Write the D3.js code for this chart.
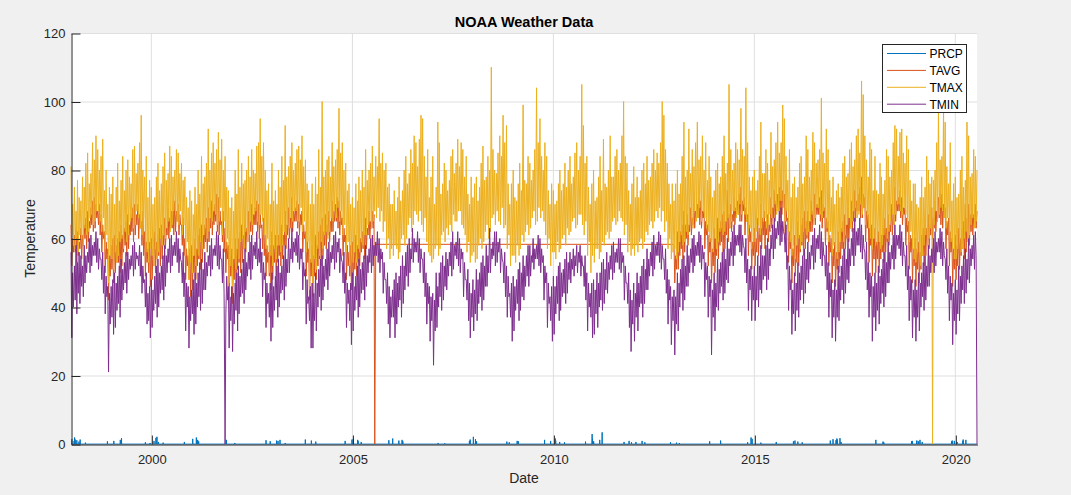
<!DOCTYPE html>
<html><head><meta charset="utf-8">
<script src="https://cdn.jsdelivr.net/npm/d3@7"></script>
<style>
body{margin:0;background:#f0f0f0;}
svg{display:block;font-family:"Liberation Sans",Arial,Helvetica,sans-serif;}
</style></head><body><svg id="c" width="1071" height="495"></svg>
<script>
// ---------------- DATA ----------------
const seriesNames = ["PRCP", "TAVG", "TMAX", "TMIN"];
const seriesColors = ["#0072BD", "#D95319", "#EDB120", "#7E2F8E"];
const yTicks = [0, 20, 40, 60, 80, 100, 120];
const xTickYears = [2000, 2005, 2010, 2015, 2020];
const startDate = "1998-01-01";   // samples on the 1st, 8th, 16th and 23rd of each month
const endDate = "2020-07-16";

// TMAX readings (4 per month), one row per year
const tmax = [
 81,61,70,58, 75,57,68,60, 77,56,72,61, 71,60,78,58, 75,63,82,61, 85,62,76,66, 79,67,88,64, 83,65,90,68, 86,68,80,65, 84,62,89,66, 74,57,80,61, 70,47,75,55,
 73,54,78,51, 70,56,75,53, 82,55,71,59, 77,60,84,57, 74,62,80,59, 83,61,78,65, 76,66,86,63, 87,64,79,68, 82,66,88,63, 96,61,80,66, 78,59,84,56, 72,53,77,57,
 75,55,70,52, 72,57,78,54, 82,56,74,60, 76,58,81,61, 85,60,77,63, 79,65,87,62, 84,64,78,68, 80,67,86,65, 85,64,79,68, 82,61,77,64, 78,55,72,59, 69,48,74,53,
 71,50,67,55, 75,52,70,57, 80,55,73,59, 84,57,76,61, 78,63,82,60, 92,62,80,66, 85,65,88,68, 82,67,86,64, 91,65,83,69, 89,61,80,65, 84,57,75,60, 74,47,69,52,
 72,46,68,54, 80,51,73,57, 86,54,75,59, 82,60,76,57, 77,62,80,59, 84,61,78,65, 86,64,80,67, 79,68,87,65, 88,64,95,67, 84,65,88,61, 80,57,74,60, 76,50,70,55,
 82,52,71,57, 74,54,70,58, 80,58,75,56, 84,58,77,62, 93,61,78,64, 81,63,84,66, 88,65,80,68, 82,68,86,65, 87,65,83,69, 90,62,81,65, 83,56,76,59, 74,45,70,53,
 76,45,70,54, 78,51,73,57, 86,55,75,59, 100,57,78,61, 80,62,83,60, 84,62,78,66, 88,65,81,68, 83,66,86,69, 98,65,85,68, 88,61,80,64, 82,56,74,59, 76,52,70,56,
 72,53,69,56, 76,53,71,57, 78,56,74,59, 80,58,75,61, 86,61,77,64, 80,65,82,63, 87,65,78,68, 84,66,81,69, 95,65,82,68, 85,62,80,65, 82,57,75,60, 76,54,70,57,
 70,55,74,58, 68,57,72,54, 78,56,71,60, 74,61,80,58, 84,60,76,64, 79,66,86,62, 82,64,90,68, 88,67,81,65, 89,68,96,64, 95,62,84,66, 78,59,86,56, 72,55,78,53,
 84,54,70,57, 75,58,94,55, 88,57,73,61, 76,62,82,59, 80,63,74,61, 77,64,84,62, 86,67,79,65, 82,65,89,68, 81,68,88,64, 86,63,78,61, 84,56,73,59, 70,53,78,55,
 72,56,76,53, 78,54,71,58, 75,60,82,57, 87,59,77,62, 78,64,84,60, 80,62,110,66, 86,67,80,64, 79,68,85,65, 90,64,84,69, 96,63,88,64, 93,57,76,61, 70,52,76,55,
 80,55,72,53, 71,58,76,55, 82,57,74,61, 99,59,77,62, 76,64,84,61, 82,63,77,66, 80,68,86,64, 104,65,88,69, 95,66,84,68, 80,65,88,61, 84,57,74,60, 70,52,76,56,
 74,56,70,54, 71,59,76,56, 80,57,74,60, 76,61,82,58, 75,63,80,61, 84,62,76,65, 78,66,85,63, 88,64,80,67, 84,67,105,64, 93,61,82,65, 84,55,75,59, 70,50,76,55,
 80,53,71,57, 72,57,78,54, 84,56,74,59, 89,58,76,61, 75,62,80,60, 90,62,78,65, 78,66,84,64, 86,65,80,68, 82,66,90,65, 100,61,84,64, 82,56,74,59, 70,55,76,57,
 81,55,72,58, 78,56,72,59, 74,60,80,57, 82,59,76,62, 84,61,77,64, 78,65,82,63, 86,65,80,68, 85,66,82,69, 88,65,100,68, 96,62,86,65, 82,57,76,60, 70,54,76,56,
 71,57,76,54, 80,56,73,59, 76,61,84,58, 94,59,78,62, 80,61,92,64, 79,66,86,63, 81,68,88,65, 94,66,83,69, 84,65,90,68, 80,66,88,63, 77,62,84,59, 78,59,72,56,
 74,60,80,57, 82,59,76,62, 78,63,84,61, 90,62,79,65, 82,66,105,63, 86,65,80,68, 82,68,88,66, 86,67,83,70, 98,67,86,70, 84,67,104,65, 88,61,78,63, 74,57,78,60,
 80,59,74,62, 77,64,84,61, 94,63,79,65, 79,66,86,63, 82,64,77,67, 91,66,81,69, 83,70,88,67, 94,68,85,71, 88,71,99,69, 95,65,84,68, 77,62,86,59, 72,55,76,58,
 78,54,72,58, 75,60,82,57, 84,59,76,62, 78,63,90,61, 86,62,78,65, 80,67,91,64, 88,66,82,69, 83,69,86,67, 101,66,85,68, 82,66,92,63, 86,59,77,62, 72,55,78,58,
 70,57,74,54, 76,56,72,59, 75,62,82,59, 84,61,78,64, 79,66,86,63, 88,65,81,68, 83,69,90,66, 92,67,85,70, 106,67,102,69, 90,64,83,67, 78,63,88,60, 86,57,74,60,
 84,58,74,59, 73,59,82,57, 78,58,73,61, 77,63,86,60, 84,62,78,65, 80,67,88,64, 93,67,92,70, 84,70,91,68, 92,67,85,69, 82,67,90,64, 86,59,77,62, 71,57,76,54,
 76,53,70,56, 69,56,72,52, 78,55,72,58, 75,61,84,58, 80,60,76,63, 78,0,77,64, 80,68,88,65, 97,67,83,69, 84,68,98,66, 94,63,81,66, 76,62,88,59, 71,57,76,54,
 78,54,72,57, 73,59,80,56, 84,57,75,60, 77,62,94,59, 90,61,78,64, 79,66,86,63, 84,65,80
];

// TMIN readings (4 per month)
const tmin = [
 56,31,50,40, 52,42,58,38, 53,44,56,41, 55,46,52,43, 58,47,55,50, 56,53,60,50, 61,52,58,55, 59,55,62,53, 60,51,57,54, 54,48,56,44, 52,38,49,43, 46,21,44,35,
 46,37,48,32, 50,34,47,39, 49,41,52,37, 54,42,51,45, 53,47,56,44, 56,48,54,51, 55,52,58,49, 59,51,56,54, 55,52,58,49, 56,44,52,47, 48,40,50,35, 44,36,46,31,
 48,34,45,39, 49,41,52,37, 54,40,50,44, 52,45,55,42, 58,46,55,50, 57,53,60,50, 61,52,58,55, 59,55,62,53, 60,50,57,54, 53,47,56,43, 50,33,47,40, 46,28,43,36,
 45,38,48,32, 50,35,47,40, 50,43,53,39, 54,41,51,45, 56,45,53,49, 55,52,58,49, 60,51,57,55, 58,55,62,52, 61,51,58,54, 54,47,57,44, 0,38,49,42, 46,28,43,36,
 46,27,44,35, 47,39,50,33, 52,38,49,43, 51,44,54,41, 57,45,53,49, 56,51,59,48, 61,51,58,55, 59,54,62,52, 57,53,60,50, 56,43,53,48, 50,34,47,41, 44,37,47,30,
 50,34,46,39, 49,42,52,37, 54,40,50,44, 52,45,55,42, 58,46,54,50, 60,50,57,54, 63,53,59,56, 60,55,62,53, 61,51,57,54, 57,45,53,49, 51,35,48,41, 43,36,46,28,
 47,28,44,36, 50,33,47,40, 51,43,54,39, 55,42,52,46, 54,48,57,45, 59,49,56,53, 58,54,61,51, 62,53,59,56, 60,50,57,54, 53,47,56,44, 50,34,47,41, 45,36,47,29,
 50,33,46,39, 49,42,52,37, 54,40,51,44, 53,45,55,42, 58,46,55,50, 57,53,60,50, 61,52,58,55, 59,55,62,53, 60,50,57,54, 56,44,53,48, 48,41,50,35, 46,31,43,37,
 45,37,48,31, 50,35,47,40, 49,42,52,37, 55,41,52,45, 56,49,58,46, 60,50,57,54, 63,53,60,56, 59,56,62,53, 60,50,57,54, 54,47,56,43, 50,35,47,41, 46,30,43,36,
 44,23,42,33, 50,34,46,40, 50,43,53,39, 55,42,52,46, 56,45,54,49, 56,52,59,49, 62,51,58,55, 59,54,62,52, 60,50,57,54, 56,43,53,48, 48,42,51,36, 47,31,44,37,
 48,33,45,38, 51,36,48,41, 50,43,53,39, 55,42,52,46, 58,46,55,50, 63,50,57,54, 59,55,62,52, 62,53,59,56, 60,50,57,54, 53,47,56,43, 52,37,49,43, 44,37,47,30,
 49,33,46,39, 48,41,51,36, 53,39,50,43, 55,42,52,46, 55,49,58,46, 58,49,55,53, 60,51,57,54, 58,54,61,52, 60,50,57,53, 55,42,52,47, 50,34,47,41, 43,36,46,30,
 49,32,46,38, 49,41,52,36, 53,39,50,43, 51,44,54,41, 56,44,53,48, 56,47,54,51, 57,49,55,52, 58,50,56,53, 58,49,55,52, 52,46,55,42, 50,33,47,40, 44,37,47,31,
 48,32,45,38, 50,34,47,40, 50,42,53,39, 54,41,51,45, 56,44,53,48, 55,51,58,48, 59,50,56,53, 57,53,60,51, 60,50,56,53, 55,42,52,47, 47,41,50,34, 45,27,42,35,
 47,30,44,37, 50,33,47,40, 49,41,52,37, 54,41,51,45, 57,45,54,49, 56,52,59,49, 61,51,58,55, 59,55,62,53, 61,51,58,54, 54,48,57,44, 51,35,48,42, 46,29,43,36,
 45,26,43,35, 50,33,47,40, 51,44,54,39, 55,42,52,46, 58,46,55,50, 57,53,60,50, 61,52,58,55, 59,55,62,53, 61,51,58,54, 56,43,53,48, 52,37,49,43, 48,26,45,37,
 50,33,47,40, 54,39,51,44, 53,46,56,42, 57,44,54,48, 60,47,57,52, 59,55,62,52, 64,55,61,58, 61,58,64,56, 64,55,61,58, 57,50,60,47, 54,39,51,45, 52,36,49,42,
 52,36,49,42, 55,40,52,45, 58,44,55,48, 55,49,58,45, 60,48,57,52, 61,57,64,54, 66,57,63,60, 65,61,68,58, 69,59,65,62, 61,56,64,51, 55,39,52,45, 48,32,45,38,
 50,33,47,39, 53,37,50,42, 52,45,55,41, 57,44,54,48, 59,47,56,51, 58,55,61,51, 63,53,60,57, 61,57,64,54, 62,52,59,55, 55,49,58,45, 53,37,50,43, 48,31,45,37,
 48,30,45,37, 52,36,49,42, 52,45,55,41, 57,44,54,48, 60,47,57,52, 60,55,63,52, 66,55,62,58, 63,58,66,56, 64,54,61,57, 56,48,59,45, 53,37,50,43, 49,30,46,37,
 50,33,47,39, 52,35,49,41, 51,44,54,40, 56,43,53,47, 59,47,56,51, 58,54,61,51, 64,54,61,58, 61,57,64,55, 62,52,59,55, 55,49,58,45, 52,36,49,42, 48,31,45,37,
 48,30,45,37, 50,33,47,40, 50,43,53,39, 55,42,52,46, 58,46,55,50, 57,53,60,50, 62,52,59,56, 60,56,63,54, 62,52,59,55, 54,48,57,44, 52,36,49,42, 47,29,44,36,
 48,32,45,38, 52,36,49,41, 52,45,55,41, 57,44,54,48, 60,47,57,52, 58,54,61,51, 62,55,0
];

// TAVG readings (4 per month): first run from 1998-01-01, second run after the gap
const tavgEarly = [
 64,52,60,56, 61,56,63,53, 62,55,59,57, 63,54,61,58, 64,60,66,57, 68,59,65,63, 69,64,71,62, 72,63,70,66, 68,64,70,61, 67,56,64,60, 62,50,59,54, 57,42,55,49,
 58,51,60,47, 61,50,58,53, 60,53,62,50, 64,52,61,56, 63,58,65,55, 67,57,64,61, 67,62,69,59, 70,61,67,64, 70,60,67,63, 65,58,68,55, 62,49,59,53, 57,50,59,46,
 60,48,57,52, 62,50,59,54, 61,55,63,52, 64,54,61,58, 66,57,63,61, 69,60,66,63, 68,63,70,61, 71,62,68,65, 70,61,67,64, 64,58,66,55, 60,48,57,52, 55,48,57,43,
 58,45,55,50, 60,48,57,52, 61,54,63,51, 64,53,61,57, 64,59,66,56, 69,59,66,63, 71,61,68,64, 70,65,73,62, 72,61,68,64, 65,59,68,56, 63,50,59,54, 58,43,55,49,
 57,41,54,48, 60,47,57,51, 60,53,62,50, 64,53,61,57, 66,56,63,60, 68,59,65,62, 70,61,67,64, 69,64,71,62, 70,60,67,63, 64,57,66,55, 61,49,58,53, 56,49,58,45,
 62,48,58,53, 61,49,58,53, 61,55,63,52, 64,54,61,58, 68,57,64,61, 69,60,66,63, 72,62,68,65, 69,65,71,63, 70,61,67,64, 68,56,64,60, 62,49,59,53, 57,42,54,49,
 58,43,55,49, 61,48,58,52, 62,54,64,52, 66,54,62,58, 67,57,64,61, 68,59,65,62, 71,62,68,65, 70,65,72,63, 71,61,68,64, 66,55,63,59, 61,48,58,52, 56,49,58,45,
 59,46,56,51, 61,49,58,53, 63,52,60,56, 62,57,64,54, 66,57,63,61, 68,60,65,63, 68,63,67,0, 58.3
];
const tavgLateStart = "2012-12-23";
const tavgLate = [
 58.3,
 58,47,55,51, 62,51,59,55, 62,57,64,54, 68,56,64,60, 67,58,64,62, 69,61,66,64, 71,63,68,66, 70,66,72,64, 71,63,68,66, 68,57,65,61, 64,52,61,56, 60,47,57,52,
 63,50,60,55, 66,54,63,58, 65,59,67,56, 68,57,65,61, 74,59,67,63, 70,62,67,65, 72,64,69,67, 71,67,73,65, 75,65,71,68, 72,61,69,65, 67,55,64,59, 62,51,59,55,
 63,52,60,56, 66,55,63,59, 70,57,66,61, 68,57,65,61, 67,59,64,62, 72,63,69,66, 74,65,71,68, 73,68,75,66, 78,67,74,70, 73,61,69,65, 66,53,62,57, 60,47,57,52,
 61,49,58,53, 65,52,61,56, 64,58,66,55, 68,57,65,60, 68,59,65,62, 71,62,68,65, 73,64,70,67, 70,67,72,65, 74,63,70,66, 69,58,66,62, 65,52,61,56, 60,47,57,52,
 59,46,56,51, 62,50,59,54, 63,57,65,55, 67,57,64,60, 69,59,66,63, 71,62,68,65, 74,65,71,68, 73,68,75,66, 78,66,73,69, 72,59,68,63, 67,53,63,58, 64,49,60,54,
 63,50,59,54, 62,50,59,54, 61,56,63,53, 66,56,63,59, 67,58,64,62, 70,61,67,64, 75,65,71,68, 72,68,74,66, 72,64,69,67, 69,58,66,62, 65,51,61,56, 60,47,57,52,
 60,46,57,51, 59,47,56,51, 61,55,63,52, 66,55,63,59, 67,57,64,61, 69,60,66,63, 71,62,68,65, 72,66,74,64, 73,63,70,66, 69,57,65,61, 66,52,62,56, 60,46,57,51,
 61,48,58,52, 63,51,60,55, 63,57,65,54, 70,56,66,60, 70,58,67,62, 70,61,67,64, 70,63,68
];

// PRCP: daily, zero except on these rainy days
const prcpDates = [
 "1998-01-09","1998-01-29","1998-02-03","1998-02-08","1998-02-23","1998-03-14","1998-03-25","1998-05-12","1998-11-28",
 "1999-01-25","1999-03-25","1999-04-05","1999-11-08","1999-12-20",
 "2000-01-25","2000-02-12","2000-02-21","2000-03-05","2000-04-17","2000-10-27",
 "2001-01-11","2001-02-13","2001-02-25","2001-03-06","2001-11-13",
 "2002-01-28","2002-11-08","2002-12-16",
 "2003-02-12","2003-02-25","2003-03-15","2003-05-02","2003-10-31","2003-12-25",
 "2004-02-03","2004-10-27","2004-12-28",
 "2005-01-09","2005-02-18","2005-02-21","2005-03-22","2005-11-28",
 "2006-01-02","2006-02-27","2006-03-28","2006-04-04",
 "2007-02-19","2007-04-20","2007-11-30","2007-12-07",
 "2008-01-05","2008-01-24","2008-02-03","2008-11-04","2008-11-26",
 "2009-02-06","2009-02-16","2009-10-13","2009-12-07",
 "2010-01-19","2010-01-22","2010-02-27","2010-04-12","2010-10-20","2010-12-19","2010-12-22",
 "2011-01-02","2011-02-26","2011-03-20","2011-10-05","2011-11-20","2011-12-12",
 "2012-01-21","2012-03-17","2012-04-11","2012-11-30",
 "2013-01-24","2013-02-19","2013-11-21",
 "2014-02-28","2014-03-01","2014-11-01","2014-12-02","2014-12-12",
 "2015-03-01","2015-07-19","2015-12-22",
 "2016-01-05","2016-01-31","2016-03-11","2016-11-21","2016-12-16",
 "2017-01-12","2017-01-20","2017-01-22","2017-02-17","2017-02-27",
 "2018-01-09","2018-03-15","2018-03-22","2018-11-29","2018-12-06",
 "2019-01-14","2019-01-17","2019-02-02","2019-02-14","2019-03-06","2019-11-28","2019-12-04","2019-12-23",
 "2020-01-17","2020-03-10","2020-03-12","2020-04-06"
];
const prcpValues = [
 1.4,0.9,1.9,1.3,1.1,0.7,1.3,0.4,0.8,
 0.9,1.2,1.7,0.5,0.3,
 0.9,1.8,2.1,0.6,0.4,0.6,
 1.5,1.9,1.2,0.8,1.2,
 0.3,1.1,0.8,
 1.0,0.9,1.2,0.3,1.3,1.0,
 0.7,0.9,1.3,
 1.5,1.2,0.9,0.6,1.1,
 1.6,1.0,1.2,0.8,
 0.3,0.2,0.9,1.3,
 2.1,1.4,0.8,0.7,0.5,
 0.9,0.8,1.2,0.9,
 1.6,1.0,0.6,0.5,0.7,2.9,1.5,
 0.8,1.2,3.4,0.6,0.9,0.5,
 0.6,0.9,0.5,0.5,
 0.4,0.3,0.8,
 1.0,0.9,0.5,1.9,1.5,
 0.4,0.6,0.8,
 1.0,0.7,0.5,1.0,1.4,
 1.1,1.6,1.3,1.7,0.6,
 1.2,0.7,0.5,0.8,0.9,
 0.9,1.0,0.8,1.2,0.6,0.8,1.0,0.9,
 0.6,0.9,1.3,1.2
];

// ---------------- DRAWING ----------------
const parse = s => new Date(s + "T00:00:00Z");
const slotDays = [1, 8, 16, 23];
function slotDates(start, n) {
  const s = parse(start);
  let y = s.getUTCFullYear(), m = s.getUTCMonth(), k = slotDays.indexOf(s.getUTCDate());
  const out = [];
  for (let i = 0; i < n; i++) {
    out.push(new Date(Date.UTC(y, m, slotDays[k])));
    k++; if (k > 3) { k = 0; m++; if (m > 11) { m = 0; y++; } }
  }
  return out;
}
function zipSeries(start, vals) {
  const d = slotDates(start, vals.length);
  return vals.map((v, i) => ({ date: d[i], value: v }));
}

const tmaxData = zipSeries(startDate, tmax);
const tminData = zipSeries(startDate, tmin);
const tavgData = zipSeries(startDate, tavgEarly).concat(zipSeries(tavgLateStart, tavgLate));
const prcpMap = new Map(prcpDates.map((d, i) => [d, prcpValues[i]]));
const fmtDay = d3.utcFormat("%Y-%m-%d");
const prcpData = d3.utcDays(parse(startDate), d3.utcDay.offset(parse(endDate), 1))
  .map(d => ({ date: d, value: prcpMap.get(fmtDay(d)) || 0 }));

const L = 71, R = 977, T = 33, B = 444;
const svg = d3.select("#c");
const x = d3.scaleUtc().domain([parse(startDate), parse(endDate)]).range([L, R]);
const y = d3.scaleLinear().domain([0, 120]).range([B, T]);
const axisColor = "#262626", gridColor = "#dfdfdf";

svg.append("rect").attr("x", L).attr("y", T).attr("width", R - L).attr("height", B - T).attr("fill", "#fff");

const xTickDates = xTickYears.map(yr => new Date(Date.UTC(yr, 0, 1)));
const grid = svg.append("g");
grid.selectAll("line.gx").data(xTickDates).join("line")
  .attr("x1", d => x(d)).attr("x2", d => x(d)).attr("y1", T).attr("y2", B)
  .attr("stroke", gridColor).attr("stroke-width", 1);
grid.selectAll("line.gy").data(yTicks).join("line")
  .attr("x1", L).attr("x2", R).attr("y1", d => y(d) + 0.5).attr("y2", d => y(d) + 0.5)
  .attr("stroke", gridColor).attr("stroke-width", 1);

const line = d3.line().x(d => x(d.date)).y(d => y(d.value));
const allSeries = [prcpData, tavgData, tmaxData, tminData];
const plot = svg.append("g");
allSeries.forEach((data, i) => {
  plot.append("path").datum(data).attr("d", line)
    .attr("fill", "none").attr("stroke", seriesColors[i]).attr("stroke-width", 1)
    .attr("stroke-linejoin", "miter");
});

// axes
const yAxis = d3.axisLeft(y).tickValues(yTicks).tickSizeInner(-9).tickSizeOuter(0).tickPadding(6);
const gy = svg.append("g").attr("transform", `translate(${L + 0.5},0.5)`).call(yAxis);
const xAxis = d3.axisBottom(x).tickValues(xTickDates).tickFormat(d3.utcFormat("%Y"))
  .tickSizeInner(-9).tickSizeOuter(0).tickPadding(10);
const gx = svg.append("g").attr("transform", `translate(0.5,${B + 0.5})`).call(xAxis);
[gx, gy].forEach(g => {
  g.selectAll("path,line").attr("stroke", axisColor);
  g.selectAll("text").attr("fill", axisColor).style("font-size", "13px")
    .style("font-family", '"Liberation Sans",Arial,Helvetica,sans-serif');
});

// labels
svg.append("text").attr("x", (L + R) / 2).attr("y", 26.5).attr("text-anchor", "middle")
  .style("font-size", "14.5px").style("font-weight", "bold").attr("fill", "#000").text("NOAA Weather Data");
svg.append("text").attr("x", (L + R) / 2).attr("y", 483).attr("text-anchor", "middle")
  .style("font-size", "14px").attr("fill", axisColor).text("Date");
svg.append("text").attr("transform", `translate(35,${(T + B) / 2}) rotate(-90)`).attr("text-anchor", "middle")
  .style("font-size", "14px").attr("fill", axisColor).text("Temperature");

// legend
const lg = svg.append("g");
lg.append("rect").attr("x", 882.5).attr("y", 44.5).attr("width", 84).attr("height", 68)
  .attr("fill", "#fff").attr("stroke", axisColor).attr("stroke-width", 1);
seriesNames.forEach((n, i) => {
  const yy = 53.5 + i * 16.9;
  lg.append("line").attr("x1", 887).attr("x2", 926).attr("y1", yy).attr("y2", yy)
    .attr("stroke", seriesColors[i]).attr("stroke-width", 1);
  lg.append("text").attr("x", 929.5).attr("y", yy + 4.5).style("font-size", "12px")
    .attr("fill", "#000").text(n);
});
</script></body></html>
